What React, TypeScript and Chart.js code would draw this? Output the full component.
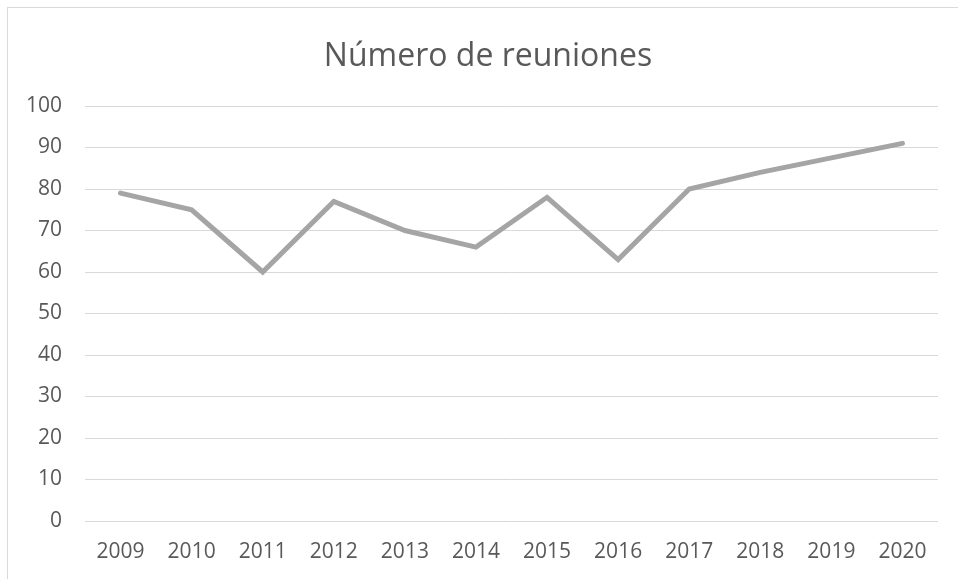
import React, { useEffect, useRef } from "react";
import { Chart, registerables } from "chart.js";

Chart.register(...registerables);

const title = "Número de reuniones";
const years = ["2009", "2010", "2011", "2012", "2013", "2014", "2015", "2016", "2017", "2018", "2019", "2020"];
const meetings = [79, 75, 60, 77, 70, 66, 78, 63, 80, 84, 87.5, 91];
const yMin = 0;
const yMax = 100;
const yStep = 10;

const FONT = "'Open Sans', sans-serif";
const TEXT = "#595959";

export default function App() {
  const ref = useRef<HTMLCanvasElement | null>(null);

  useEffect(() => {
    if (!ref.current) return;
    const chart = new Chart(ref.current, {
      type: "line",
      data: {
        labels: years,
        datasets: [
          {
            label: title,
            data: meetings,
            borderColor: "#A5A5A5",
            backgroundColor: "#A5A5A5",
            borderWidth: 5,
            borderCapStyle: "round",
            pointRadius: 0,
            pointHoverRadius: 0,
            tension: 0,
            fill: false,
          },
        ],
      },
      options: {
        animation: false,
        responsive: false,
        maintainAspectRatio: false,
        layout: { padding: { left: 18, right: 0, top: 0, bottom: 0 } },
        plugins: {
          legend: { display: false },
          tooltip: { enabled: false },
          title: {
            display: true,
            text: title,
            color: TEXT,
            font: { family: FONT, size: 32, weight: "normal", lineHeight: 1.2 },
            padding: { top: 37.8, bottom: 29.8 },
          },
        },
        scales: {
          x: {
            type: "category",
            offset: true,
            grid: { display: false, drawTicks: false },
            border: { display: false },
            ticks: {
              color: TEXT,
              font: { family: FONT, size: 21 },
              padding: 18,
              maxRotation: 0,
              autoSkip: false,
            },
            afterFit: (scale: any) => {
              scale.height = 58;
            },
          },
          y: {
            min: yMin,
            max: yMax,
            grid: { color: "#D9D9D9", lineWidth: 1, drawTicks: false },
            border: { display: false },
            ticks: {
              stepSize: yStep,
              color: TEXT,
              font: { family: FONT, size: 21 },
              padding: 23,
            },
            afterFit: (scale: any) => {
              scale.width = 67;
            },
          },
          yRight: {
            position: "right",
            display: true,
            min: yMin,
            max: yMax,
            grid: { display: false, drawTicks: false },
            border: { display: false },
            ticks: { display: false },
            afterFit: (scale: any) => {
              scale.width = 20;
            },
          },
        },
      },
    });
    return () => chart.destroy();
  }, []);

  return (
    <div style={{ position: "fixed", left: 0, top: 0, width: 958, height: 579, background: "#fff", overflow: "hidden" }}>
      <div
        style={{
          position: "absolute",
          left: 7,
          top: 7,
          width: 1000,
          height: 1000,
          border: "1px solid #D9D9D9",
          boxSizing: "border-box",
        }}
      />
      <canvas ref={ref} width={958} height={579} style={{ position: "absolute", left: 0, top: 0, display: "block" }} />
    </div>
  );
}
